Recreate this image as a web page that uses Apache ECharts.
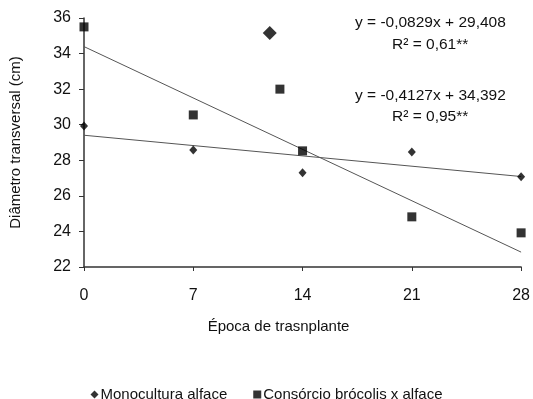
<!DOCTYPE html>
<html>
<head>
<meta charset="utf-8">
<script src="https://cdn.jsdelivr.net/npm/echarts@6/dist/echarts.min.js"></script>
<style>
  html, body { margin: 0; padding: 0; background: #fff; }
  #chart { width: 533px; height: 399px; }
</style>
</head>
<body>
<div id="chart"></div>
<script>
// Transplant timing (days) and transverse diameter (cm)
const xTicks = [0, 7, 14, 21, 28];
const monoY = [29.93, 28.58, 27.3, 28.47, 27.07];
const consY = [35.5, 30.55, 28.53, 24.82, 23.92];
// isolated points plotted between 7 and 14
const monoExtra = [[11.9, 35.15]];
const consExtra = [[12.55, 32.0]];
// linear fits: y = a*x + b
const monoFit = { a: -0.0829, b: 29.408, r2: '0,61**', eq: 'y = -0,0829x + 29,408' };
const consFit = { a: -0.4127, b: 34.392, r2: '0,95**', eq: 'y = -0,4127x + 34,392' };
const seriesNames = ['Monocultura alface', 'Consórcio brócolis x alface'];

const font = '"Liberation Sans", Arial, sans-serif';
const ink = '#111';
const fitLine = f => [[0, f.b], [28, f.a * 28 + f.b]];
const pairs = ys => xTicks.map((x, i) => [x, ys[i]]);

const chart = echarts.init(document.getElementById('chart'));
chart.setOption({
  animation: false,
  textStyle: { fontFamily: font, color: ink },
  grid: { left: 82, right: 11, top: 18, bottom: 132 },
  xAxis: {
    type: 'value', min: 0, max: 28, interval: 7,
    name: 'Época de trasnplante', nameLocation: 'middle', nameGap: 52,
    nameTextStyle: { fontSize: 15, color: ink, padding: [0, 48, 0, 0] },
    axisLine: { lineStyle: { color: '#333', width: 1.5 } },
    axisTick: { show: true, length: 4, lineStyle: { color: '#333' } },
    axisLabel: { fontSize: 16, color: ink, margin: 21 },
    splitLine: { show: false }
  },
  yAxis: {
    type: 'value', min: 22, max: 36, interval: 2,
    name: 'Diâmetro transversal (cm)', nameLocation: 'middle', nameGap: 61,
    nameTextStyle: { fontSize: 15, color: ink },
    axisLine: { show: true, lineStyle: { color: '#333', width: 1.5 } },
    axisTick: { show: true, length: 5, lineStyle: { color: '#333' } },
    axisLabel: { fontSize: 16, color: ink, margin: 13 },
    splitLine: { show: false }
  },
  legend: {
    top: 382, left: 'center', itemGap: 26, itemWidth: 8, itemHeight: 8,
    textStyle: { fontSize: 15, color: ink, padding: [0, 0, 0, -3] },
    data: [
      { name: seriesNames[0], icon: 'diamond' },
      { name: seriesNames[1], icon: 'rect' }
    ]
  },
  series: [
    {
      name: 'fit mono', type: 'line', data: fitLine(monoFit), symbol: 'none',
      lineStyle: { color: '#555', width: 1 }, z: 1
    },
    {
      name: 'fit cons', type: 'line', data: fitLine(consFit), symbol: 'none',
      lineStyle: { color: '#555', width: 1 }, z: 1
    },
    {
      name: seriesNames[0], type: 'scatter', data: pairs(monoY),
      symbol: 'diamond', symbolSize: [8, 9], itemStyle: { color: '#000' }, z: 3
    },
    {
      name: seriesNames[1], type: 'scatter', data: pairs(consY),
      symbol: 'rect', symbolSize: 9, itemStyle: { color: '#000' }, z: 3
    },
    {
      name: 'extra mono', type: 'scatter', data: monoExtra,
      symbol: 'diamond', symbolSize: 14, itemStyle: { color: '#000' }, z: 3
    },
    {
      name: 'extra cons', type: 'scatter', data: consExtra,
      symbol: 'rect', symbolSize: 9, itemStyle: { color: '#000' }, z: 3
    }
  ],
  graphic: [
    { type: 'text', left: 355, top: 15, style: { text: monoFit.eq, font: '15.5px ' + font, fill: ink } },
    { type: 'text', left: 392, top: 37, style: { text: 'R² = ' + monoFit.r2, font: '15.5px ' + font, fill: ink } },
    { type: 'text', left: 355, top: 88, style: { text: consFit.eq, font: '15.5px ' + font, fill: ink } },
    { type: 'text', left: 392, top: 109, style: { text: 'R² = ' + consFit.r2, font: '15.5px ' + font, fill: ink } }
  ]
});
</script>
</body>
</html>
